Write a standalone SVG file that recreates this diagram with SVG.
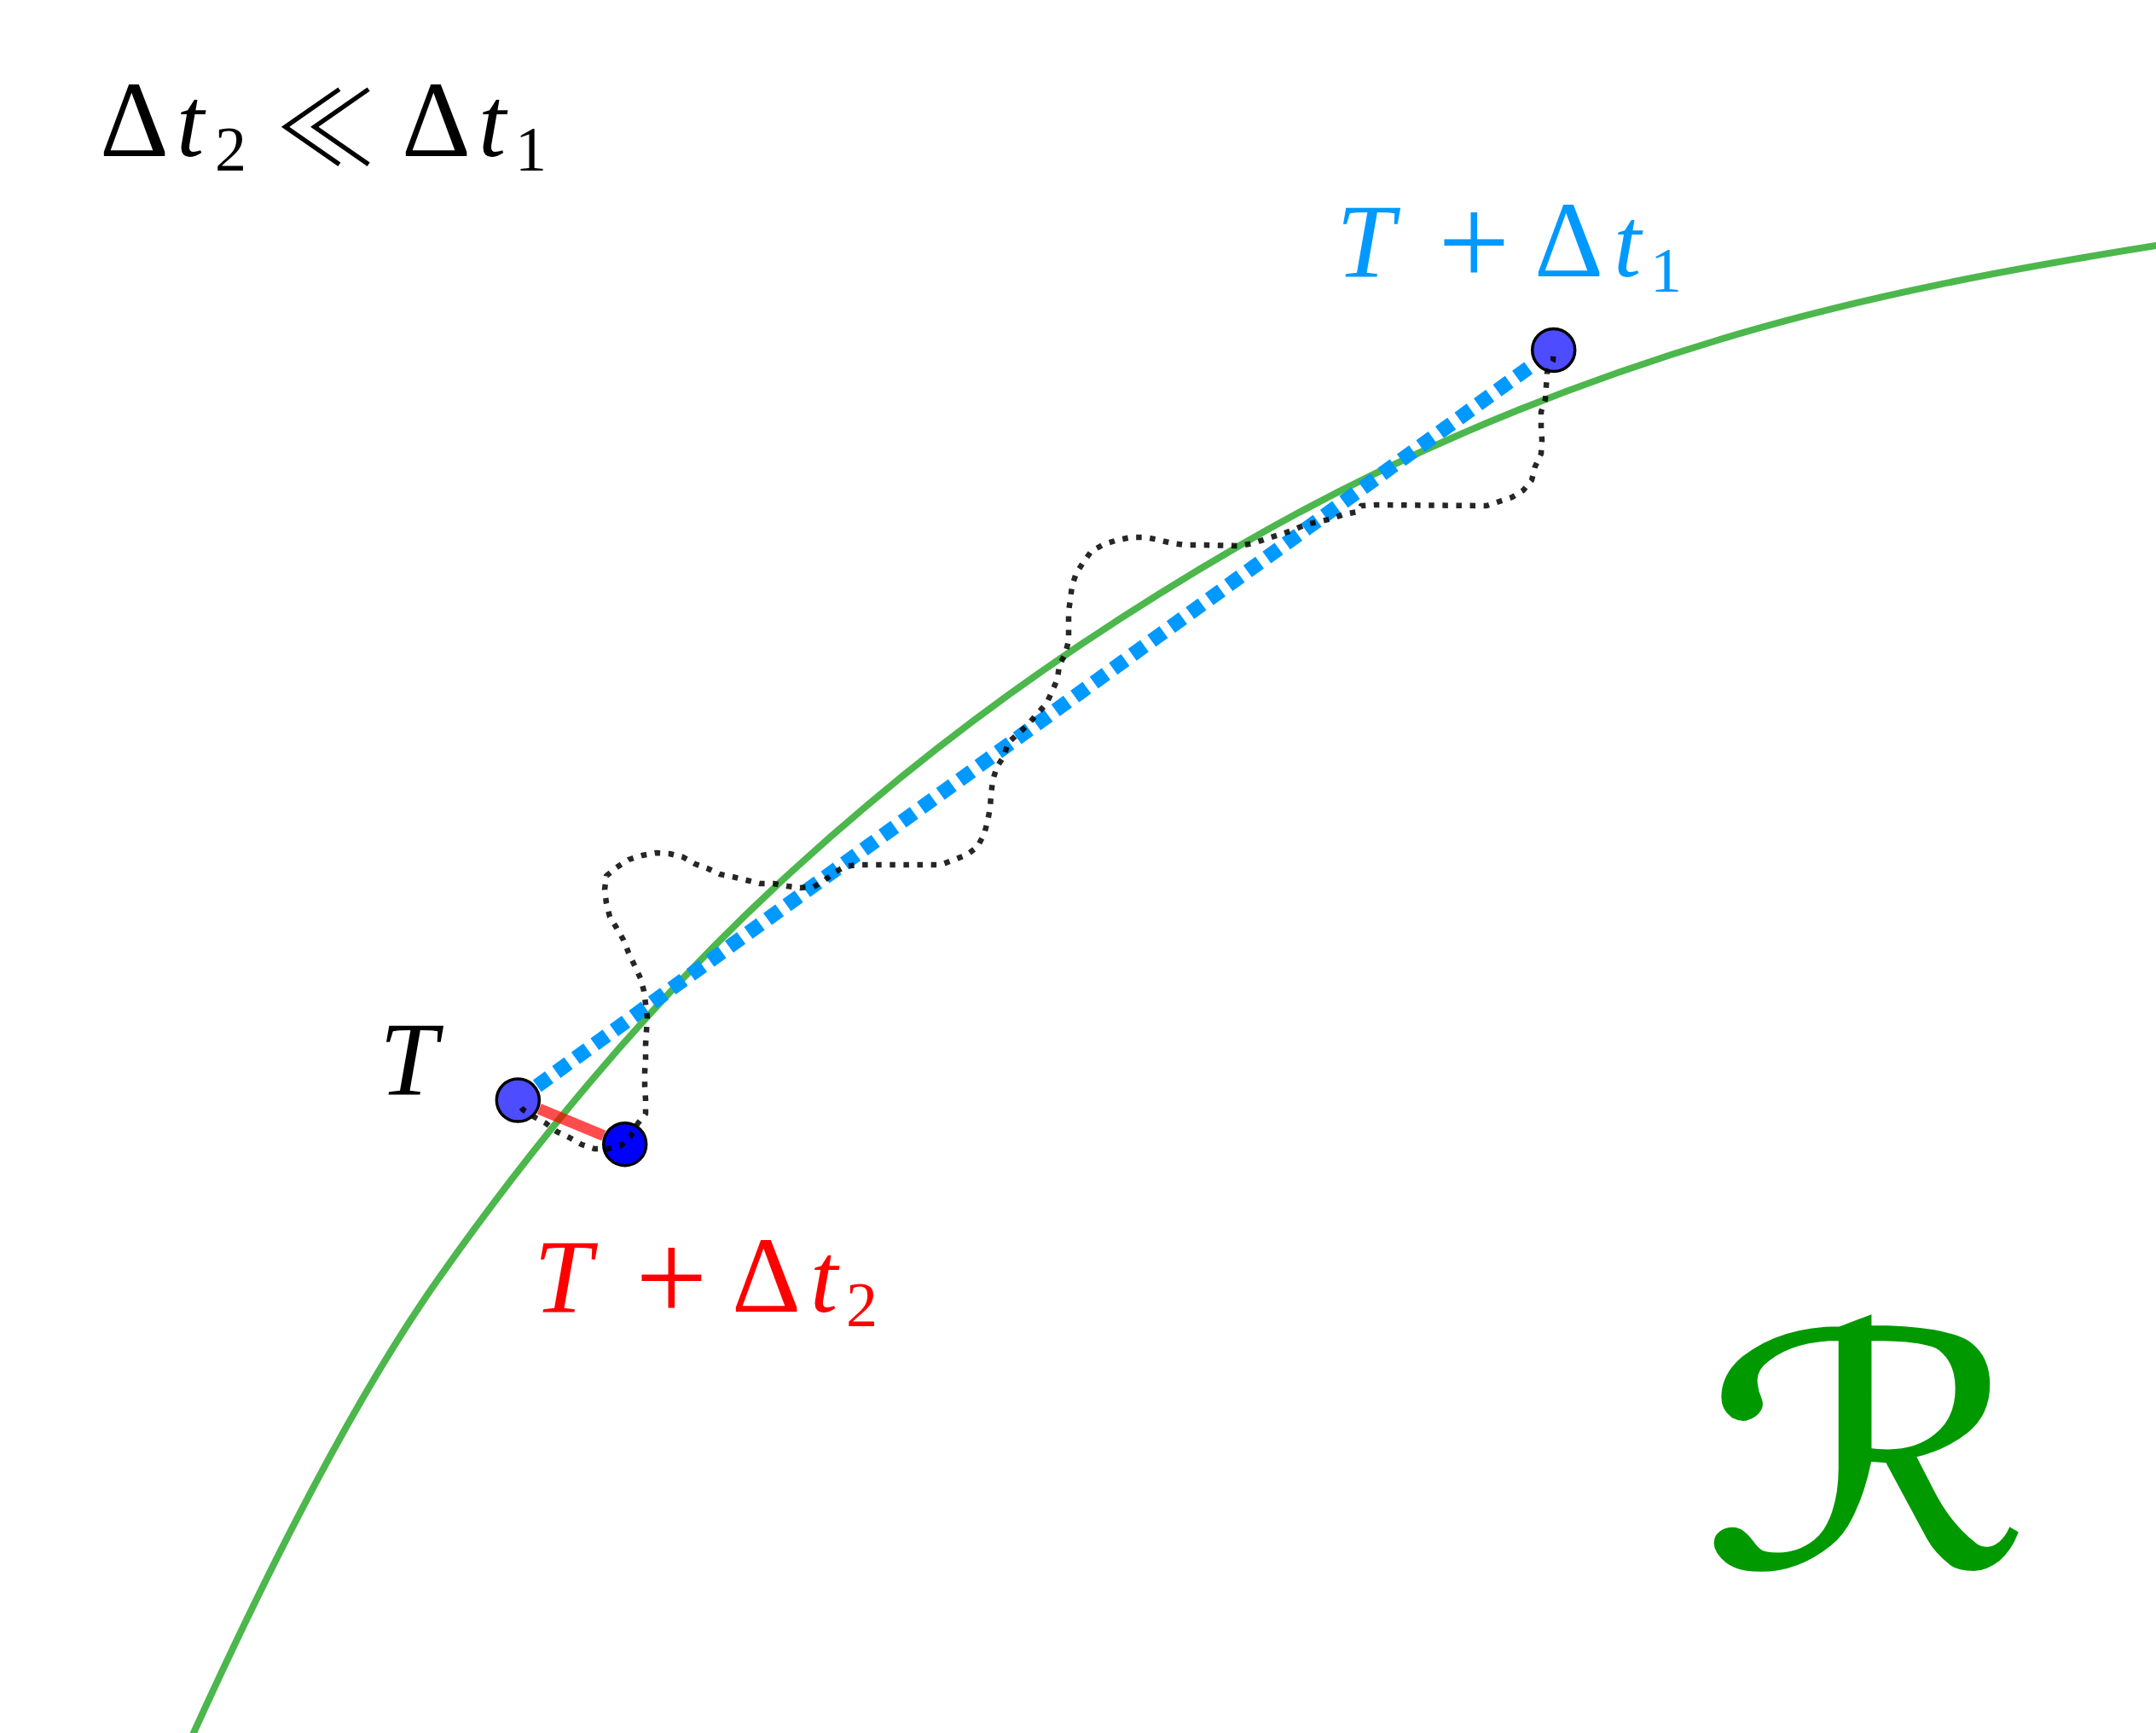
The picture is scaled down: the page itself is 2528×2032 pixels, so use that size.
<svg xmlns="http://www.w3.org/2000/svg" width="2528" height="2032" viewBox="0 0 2528 2032">
<style>
text { font-family: "Liberation Serif", "DejaVu Serif", serif; }
.it { font-style: italic; }
.sym { font-family: "Noto Sans CJK JP", "DejaVu Sans", sans-serif; font-weight: 300; }
.node { stroke: #000; stroke-width: 3.5; }
.light { fill: #4d4dff; }
.dark { fill: #0000ff; }
.curve { fill: none; stroke: #009900; stroke-opacity: 0.7; stroke-width: 8; }
.blue { fill: none; stroke: #0099ff; stroke-width: 17; stroke-dasharray: 17.5 10.3; }
.red { fill: none; stroke: #ff0000; stroke-opacity: 0.7; stroke-width: 13; }
.walk { fill: none; stroke: #000; stroke-opacity: 0.85; stroke-width: 6.5; stroke-dasharray: 6.5 9.6; stroke-dashoffset: 6.5; stroke-linejoin: round; }
</style>
<rect width="2528" height="2032" fill="#fff"/>
<g id="region">
<path class="curve" d="M 218 2052 L 227 2032 C 322.3 1822.3 417.7 1636.4 513 1501 C 646 1312.1 779 1160.7 912 1037 C 1092.3 869.3 1272.7 744.6 1453 640 C 1642 530.4 1831 453.7 2020 397 C 2189.3 346.2 2358.7 315.1 2528 288 L 2560 283"/>
<text transform="translate(1996,0) scale(1.27,1)" x="0" y="1838" font-size="380" fill="#009900" stroke="#009900" stroke-width="3" style="font-family: 'DejaVu Sans', 'DejaVu Serif', sans-serif;">ℛ</text>
</g>
<g id="caption">
<text y="183" fill="#000"><tspan x="117" font-size="126">Δ</tspan><tspan x="207" class="it" font-size="116">t</tspan><tspan x="252" y="200" font-size="74">2</tspan><tspan x="322" y="194" class="sym" font-size="120">≪</tspan><tspan x="471" y="183" font-size="126">Δ</tspan><tspan x="561" class="it" font-size="116">t</tspan><tspan x="604" y="200" font-size="74">1</tspan></text>
</g>
<g id="node-T">
<circle class="node light" cx="607.3" cy="1290" r="25"/>
<text x="445" y="1283" font-size="122" class="it" fill="#000">T</text>
</g>
<g id="node-T-dt2">
<circle class="node dark" cx="732.7" cy="1341.7" r="25"/>
<text y="1538" fill="#ff0000"><tspan x="626" class="it" font-size="122">T</tspan><tspan x="745" y="1548" font-size="150">+</tspan><tspan x="858" y="1538" font-size="126">Δ</tspan><tspan x="950" class="it" font-size="116">t</tspan><tspan x="992" y="1555" font-size="74">2</tspan></text>
</g>
<g id="node-T-dt1">
<circle class="node light" cx="1821.7" cy="410.5" r="25"/>
<text y="324" fill="#0099ff"><tspan x="1567" class="it" font-size="122">T</tspan><tspan x="1686" y="334" font-size="150">+</tspan><tspan x="1799" y="324" font-size="126">Δ</tspan><tspan x="1892" class="it" font-size="116">t</tspan><tspan x="1935" y="342" font-size="74">1</tspan></text>
</g>
<g id="connectors">
<path id="edge-dt1" class="blue" d="M 629.8 1273.3 L 1798.6 426.7"/>
<path id="edge-dt2" class="red" d="M 632.3 1300.3 L 707.7 1331.4"/>
<path id="edge-walk" class="walk" d="M 607.3 1290 L 611 1298 L 613 1301 L 627 1310 L 640 1317 L 653 1327 L 668 1334 L 682 1342 L 697 1347 L 713 1347 L 728 1343 L 739 1333 L 748 1317 L 757 1306 L 757 1290 L 756 1273 L 756 1257 L 757 1242 L 757 1225 L 758 1209 L 759 1193 L 757 1177 L 755 1162 L 751 1147 L 744 1132 L 737 1117 L 731 1102 L 723 1088 L 715 1075 L 711 1059 L 709 1043 L 711 1027 L 723 1017 L 737 1008 L 753 1003 L 769 1000 L 785 1001 L 801 1005 L 815 1013 L 829 1018 L 844 1025 L 859 1028 L 875 1032 L 891 1036 L 907 1036 L 923 1039 L 938 1041 L 954 1040 L 967 1032 L 980 1022 L 991 1016 L 1006 1014 L 1103 1014 L 1119 1008 L 1134 1002 L 1146 993 L 1154 978 L 1158 963 L 1161 947 L 1162 932 L 1164 915 L 1169 899 L 1177 887 L 1182 871 L 1194 860 L 1205 850 L 1216 837 L 1227 825 L 1233 812 L 1240 796 L 1242 780 L 1249 767 L 1253 751 L 1253 734 L 1253 717 L 1255 703 L 1257 687 L 1262 672 L 1271 658 L 1280 646 L 1295 638 L 1311 633 L 1327 630 L 1343 630 L 1359 633 L 1374 637 L 1390 639 L 1407 639 L 1453 640 L 1470 637 L 1484 632 L 1500 627 L 1515 622 L 1531 615 L 1545 612 L 1562 608 L 1576 603 L 1592 600 L 1596 593 L 1613 592 L 1743 593 L 1758 588 L 1773 583 L 1786 575 L 1796 563 L 1800 547 L 1807 532 L 1808 516 L 1807 500 L 1807 483 L 1812 468 L 1813 453 L 1814 437 L 1821 423 L 1821.7 410.5"/>
</g>
</svg>
